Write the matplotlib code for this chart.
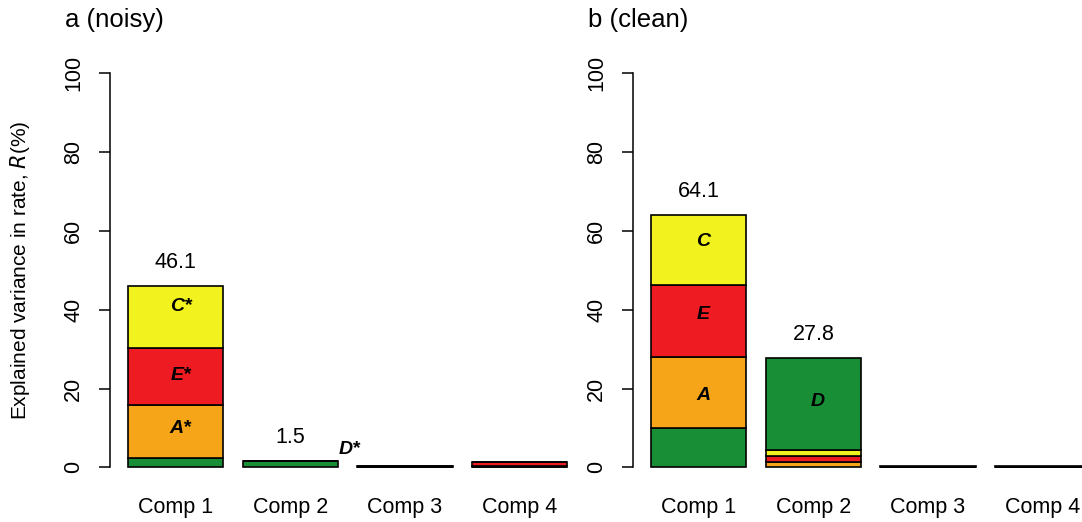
import matplotlib
matplotlib.use("Agg")
import matplotlib.pyplot as plt
import numpy as np

plt.rcParams['font.family'] = ['Liberation Sans', 'DejaVu Sans']

components = ["Comp 1", "Comp 2", "Comp 3", "Comp 4"]
categories = ["D", "A", "E", "C"]
cat_colors = {"D": "#188F36", "A": "#F7A518", "E": "#EE1B22", "C": "#F2F21E"}

# panel a (noisy): values per category for each component
noisy = {
    "D": [2.4, 1.5, 0.15, 0.0],
    "A": [13.4, 0.0, 0.05, 0.25],
    "E": [14.4, 0.0, 0.05, 1.05],
    "C": [15.9, 0.0, 0.05, 0.0],
}
noisy_totals = [46.1, 1.5, None, None]
noisy_order = [["D", "A", "E", "C"], ["D", "A", "E", "C"], ["D", "A", "E", "C"], ["D", "A", "E", "C"]]
noisy_labels = [("A*", 0, "A", 0.8), ("E*", 0, "E", 0.3), ("C*", 0, "C", 2.6)]

# panel b (clean)
clean = {
    "D": [10.0, 23.4, 0.1, 0.1],
    "A": [18.0, 1.4, 0.05, 0.05],
    "E": [18.2, 1.5, 0.05, 0.05],
    "C": [17.9, 1.5, 0.05, 0.05],
}
clean_totals = [64.1, 27.8, None, None]
clean_order = [["D", "A", "E", "C"], ["A", "E", "C", "D"], ["D", "A", "E", "C"], ["D", "A", "E", "C"]]
clean_labels = [("A", 0, "A", -0.8), ("E", 0, "E", 1.6), ("C", 0, "C", 2.2), ("D", 1, "D", 0.5)]

W, H = 1082, 522
fig = plt.figure(figsize=(W / 100, H / 100), dpi=100)

pxu = 95.5
xlo, xhi = 0.016, 4.984
axw = (xhi - xlo) * pxu / W
ybot = (H - (467.3 + 4 * 3.94)) / H
axh = 108 * 3.94 / H

lefts = [110.4 / W, 633.4 / W]
titles = ["a (noisy)", "b (clean)"]
title_x = [65, 588]

xpos = 0.2 + 1.2 * np.arange(len(components))  # left edges of bars


def draw(ax, data, order, totals, labels):
    bottoms = {}
    for i in range(len(components)):
        b = 0.0
        for cat in order[i]:
            v = data[cat][i]
            ax.bar(xpos[i], v, width=1.0, bottom=b, align='edge',
                   color=cat_colors[cat], edgecolor='black', linewidth=1.2)
            bottoms[(cat, i)] = (b, v)
            b += v
        if totals[i] is not None:
            ax.text(xpos[i] + 0.5, b + 6.0, f"{totals[i]:.1f}", ha='center', va='center',
                    fontsize=15.5)
    for txt, i, cat, dy in labels:
        b, v = bottoms[(cat, i)]
        ax.text(xpos[i] + 0.55, b + v / 2 + dy, txt, ha='center', va='center',
                fontsize=14, fontweight='bold', fontstyle='italic')
    for i, c in enumerate(components):
        ax.text(xpos[i] + 0.5, -10.3, c, ha='center', va='center', fontsize=15.5,
                clip_on=False)
    ax.set_xlim(xlo, xhi)
    ax.set_ylim(-4, 104)
    for s in ['top', 'right', 'bottom']:
        ax.spines[s].set_visible(False)
    ax.spines['left'].set_bounds(0, 100)
    ax.spines['left'].set_linewidth(1.1)
    ax.set_xticks([])
    ax.set_yticks([0, 20, 40, 60, 80, 100])
    ax.set_yticklabels(["0", "20", "40", "60", "80", "100"], rotation=90, va='center',
                       fontsize=15.5)
    ax.tick_params(axis='y', length=8, width=1.1, pad=11)
    ax.patch.set_alpha(0)


for k, (data, order, totals, labels) in enumerate(
        [(noisy, noisy_order, noisy_totals, noisy_labels),
         (clean, clean_order, clean_totals, clean_labels)]):
    ax = fig.add_axes([lefts[k], ybot, axw, axh])
    draw(ax, data, order, totals, labels)
    fig.text(title_x[k] / W, 1 - 20 / H, titles[k], ha='left', va='center', fontsize=18.5)
    if k == 0:
        ax.text(2.525, 4.4, "D*", ha='center', va='center', fontsize=14,
                fontweight='bold', fontstyle='italic')

fig.text(20 / W, (H - 270) / H, r"Explained variance in rate, $\it{R}$(%)", rotation=90,
         ha='center', va='center', fontsize=15)

fig.savefig("out.png", dpi=100)
